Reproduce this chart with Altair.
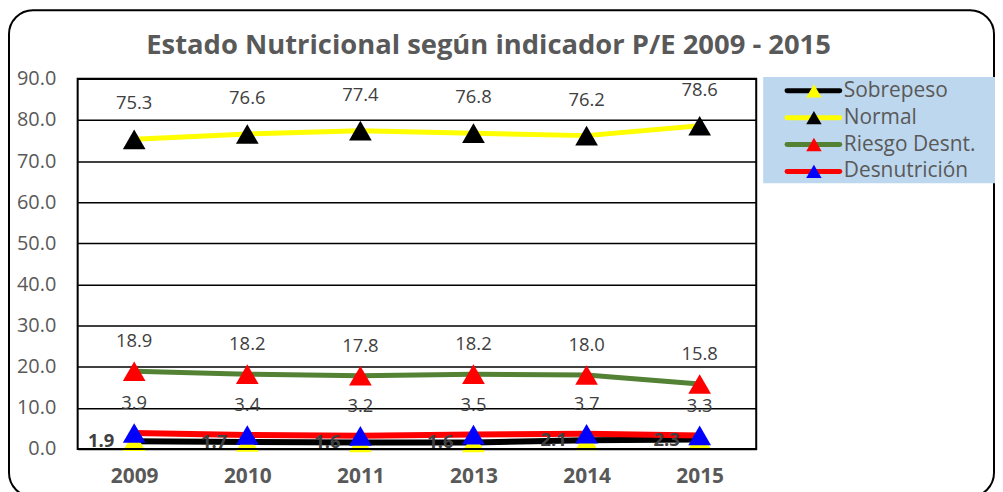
import altair as alt
import pandas as pd

years = ["2009", "2010", "2011", "2013", "2014", "2015"]
series = ["Sobrepeso", "Normal", "Riesgo Desnt.", "Desnutrición"]
sobrepeso = [1.9, 1.7, 1.6, 1.6, 2.1, 2.3]
normal = [75.3, 76.6, 77.4, 76.8, 76.2, 78.6]
riesgo = [18.9, 18.2, 17.8, 18.2, 18.0, 15.8]
desnutricion = [3.9, 3.4, 3.2, 3.5, 3.7, 3.3]

line_colors = ["#000000", "#FFFF00", "#548235", "#FF0000"]
marker_colors = ["#FFFF00", "#000000", "#FF0000", "#0000FF"]
line_widths = [6, 5, 5, 6]

rows = []
for name, vals in zip(series, [sobrepeso, normal, riesgo, desnutricion]):
    for y, v in zip(years, vals):
        rows.append({"year": y, "series": name, "value": v})
df = pd.DataFrame(rows)
lg = pd.DataFrame({"series": series})

W, H = 682, 372
FONT = "Open Sans"
GRAY = "#595959"

xenc = alt.X("year:O", sort=years, scale=alt.Scale(type="point", padding=0.5),
             axis=alt.Axis(title=None, labelAngle=0, labelFontSize=21, labelFontWeight="bold",
                           labelColor=GRAY, labelFont=FONT, ticks=False, domain=False,
                           labelPadding=17, labelBaseline="top"))
yenc = alt.Y("value:Q", scale=alt.Scale(domain=[0, 90], nice=False),
             axis=alt.Axis(title=None, values=list(range(0, 100, 10)), format=".1f",
                           labelFontSize=20, labelColor=GRAY, labelFont=FONT, ticks=False,
                           domain=False, labelPadding=22, grid=True, gridColor="#000000",
                           gridWidth=1.5, gridOpacity=1))
lcol = alt.Scale(domain=series, range=line_colors)
mcol = alt.Scale(domain=series, range=marker_colors)

base = alt.Chart(df)
one = pd.DataFrame({"a": [0]})

border = alt.Chart(one).mark_rect(
    fill="transparent", stroke="#000000", strokeWidth=2, cornerRadius=24
).encode(x=alt.value(-69), x2=alt.value(921), y=alt.value(-69), y2=alt.value(420))

frame = alt.Chart(one).mark_rect(
    fill="transparent", stroke="#000000", strokeWidth=2
).encode(x=alt.value(0), x2=alt.value(W), y=alt.value(0), y2=alt.value(H))

title = alt.Chart(pd.DataFrame({"t": ["Estado Nutricional según indicador P/E 2009 - 2015"]})).mark_text(
    font=FONT, fontSize=27.5, fontWeight="bold", color=GRAY, align="center", baseline="middle"
).encode(text="t:N", x=alt.value(413), y=alt.value(-33))

lines_layers = []
pts_layers = []
for name, lw in zip(series, line_widths):
    sub = base.transform_filter(alt.datum.series == name)
    lines_layers.append(
        sub.mark_line(strokeWidth=lw).encode(
            x=xenc, y=yenc, stroke=alt.Stroke("series:N", scale=lcol, legend=None))
    )
    pts_layers.append(
        sub.mark_point(shape="triangle-up", filled=True, size=520, opacity=1).encode(
            x=xenc, y=yenc, fill=alt.Fill("series:N", scale=mcol, legend=None))
    )

labels_normal = base.transform_filter(alt.datum.series == "Normal").mark_text(
    font=FONT, fontSize=18.5, color="#404040", dy=-36
).encode(x=xenc, y=yenc, text=alt.Text("value:Q", format=".1f"))

labels_above = base.transform_filter(
    (alt.datum.series == "Riesgo Desnt.") | (alt.datum.series == "Desnutrición")
).mark_text(font=FONT, fontSize=18.5, color="#404040", dy=-30
).encode(x=xenc, y=yenc, text=alt.Text("value:Q", format=".1f"))

labels_left = base.transform_filter(alt.datum.series == "Sobrepeso").mark_text(
    font=FONT, fontSize=18.5, fontWeight="bold", color="#404040", align="right", dx=-20, dy=0
).encode(x=xenc, y=yenc, text=alt.Text("value:Q", format=".1f"))

lgy = alt.Y("series:N", sort=series, scale=alt.Scale(type="point", domain=series, range=[12, 93], padding=0), axis=None)
leg_bg = alt.Chart(one).mark_rect(fill="#BDD7EE").encode(
    x=alt.value(689), x2=alt.value(925), y=alt.value(-2), y2=alt.value(105))
leg_line = alt.Chart(lg).mark_rule(strokeWidth=5, strokeCap="round").encode(
    x=alt.value(713), x2=alt.value(766), y=lgy,
    color=alt.Color("series:N", scale=lcol, legend=None))
leg_pt = alt.Chart(lg).mark_point(shape="triangle-up", filled=True, size=240, opacity=1).encode(
    x=alt.value(740), y=lgy, fill=alt.Fill("series:N", scale=mcol, legend=None))
leg_txt = alt.Chart(lg).mark_text(font=FONT, fontSize=21, color=GRAY, align="left", baseline="middle").encode(
    x=alt.value(770), y=lgy, text="series:N")

main = alt.layer(*lines_layers, *pts_layers, labels_normal, labels_above, labels_left, frame)
legend = alt.layer(leg_bg, leg_line, leg_pt, leg_txt)

chart = alt.layer(border, title, main, legend).resolve_scale(y="independent").properties(
    width=W, height=H,
    autosize=alt.AutoSizeParams(type="none"),
    padding={"left": 70, "top": 70, "right": 240, "bottom": 42},
).configure_view(stroke=None).configure(background="white")

chart.save("out.html", embed_options={"renderer": "svg", "actions": False})
